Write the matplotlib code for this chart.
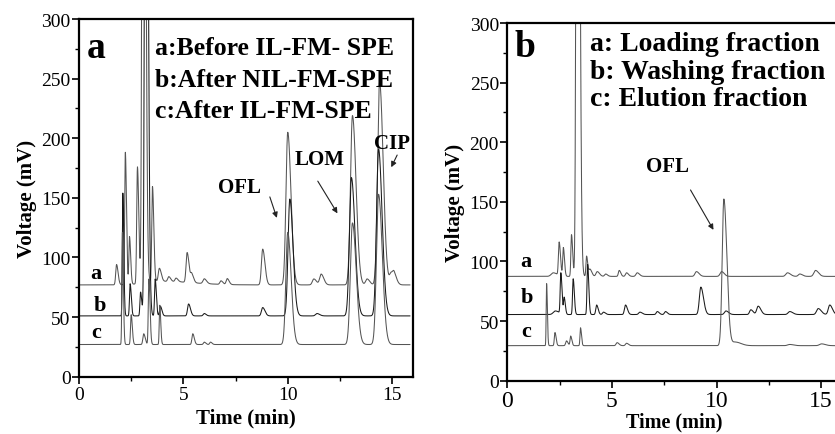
import numpy as np
import matplotlib
matplotlib.use("Agg")
import matplotlib.pyplot as plt
from matplotlib.ticker import MultipleLocator

plt.rcParams['font.family'] = ['Liberation Serif', 'DejaVu Serif']

# ---------------- data: peak tables ----------------
# panel a : baselines (mV)
a_base = {'a': 77.0, 'b': 51.0, 'c': 27.0}
# retention time (min), height above baseline (mV), width (min)
a_trace_a_t = [1.80, 2.22, 2.42, 2.80, 3.08, 3.52, 3.85, 4.00, 4.30, 4.65, 5.18, 5.40, 6.00, 6.80, 7.10, 8.80, 10.00, 11.25, 11.60, 13.10, 13.80, 14.40, 14.95, 15.10]
a_trace_a_h = [17, 111, 40, 98, 900, 80, 11, 3, 4, 3, 25, 7, 4, 3, 5, 30, 128, 5, 9, 142, 5, 170, 9, 7]
a_trace_a_w = [0.04, 0.03, 0.03, 0.035, 0.05, 0.035, 0.05, 0.8, 0.05, 0.05, 0.05, 0.05, 0.06, 0.05, 0.05, 0.06, 0.085, 0.07, 0.07, 0.095, 0.07, 0.095, 0.07, 0.07]

a_trace_b_t = [2.10, 2.45, 2.95, 3.20, 3.65, 3.90, 5.25, 6.00, 8.80, 10.10, 11.40, 13.05, 14.35]
a_trace_b_h = [103, 27, 20, 800, 31, 8, 10, 2, 7, 98, 2, 116, 140]
a_trace_b_w = [0.025, 0.03, 0.03, 0.05, 0.03, 0.04, 0.05, 0.05, 0.06, 0.085, 0.07, 0.095, 0.095]

a_trace_c_t = [2.08, 2.50, 3.10, 3.35, 3.87, 5.45, 6.00, 6.30, 10.00, 13.10, 14.35]
a_trace_c_h = [94, 25, 9, 55, 33, 9, 2, 2, 94, 102, 126]
a_trace_c_w = [0.025, 0.03, 0.04, 0.03, 0.025, 0.04, 0.04, 0.04, 0.09, 0.10, 0.10]

# panel b
b_base = {'a': 87.5, 'b': 55.5, 'c': 29.4}
b_trace_a_t = [2.20, 2.48, 2.68, 3.07, 3.35, 3.79, 3.95, 4.30, 4.70, 5.35, 5.70, 6.21, 9.04, 10.24, 13.39, 13.98, 14.73]
b_trace_a_h = [3, 28, 24, 35, 900, 17, 6, 4, 2, 5, 3, 3, 4, 4, 3, 2, 5]
b_trace_a_w = [0.10, 0.035, 0.03, 0.03, 0.05, 0.03, 0.05, 0.06, 0.05, 0.04, 0.05, 0.06, 0.07, 0.07, 0.08, 0.07, 0.08]

b_trace_b_t = [2.30, 2.56, 2.72, 3.15, 3.84, 4.27, 4.60, 5.65, 6.34, 7.17, 7.56, 9.25, 10.45, 11.64, 11.99, 13.50, 14.86, 15.41]
b_trace_b_h = [3, 34, 14, 30, 42, 8, 2, 8, 2, 2.5, 2.5, 23, 3, 4, 7, 2.5, 5, 8]
b_trace_b_w = [0.10, 0.03, 0.03, 0.03, 0.03, 0.04, 0.05, 0.05, 0.06, 0.05, 0.05, 0.07, 0.07, 0.06, 0.07, 0.08, 0.08, 0.07]

b_trace_c_t = [1.88, 2.28, 2.83, 3.03, 3.50, 5.25, 5.70, 10.35, 10.90, 13.50, 15.02]
b_trace_c_h = [52, 11, 4, 8, 15, 2.5, 2, 123, 3, 1, 1.5]
b_trace_c_w = [0.02, 0.03, 0.04, 0.03, 0.025, 0.05, 0.05, 0.08, 0.15, 0.10, 0.10]

xticks = [0, 5, 10, 15]
yticks = [0, 50, 100, 150, 200, 250, 300]

legend_a = ['a:Before IL-FM- SPE', 'b:After NIL-FM-SPE', 'c:After IL-FM-SPE']
legend_b = ['a: Loading fraction', 'b: Washing fraction', 'c: Elution fraction']


def trace(t, base, pt, ph, pw, tail=1.8):
    y = np.full_like(t, base)
    for c, h, w in zip(pt, ph, pw):
        s = np.where(t < c, w, w * tail)
        y = y + h * np.exp(-0.5 * ((t - c) / s) ** 2)
    return y


t = np.linspace(0, 15.85, 6000)
tb = np.linspace(0, 16, 6000)

fig = plt.figure(figsize=(8.35, 4.35), dpi=100)
axA = fig.add_axes([0.0946, 0.1317, 0.400, 0.8223])
axB = fig.add_axes([0.6075, 0.1225, 0.401, 0.8223])

colA = '#555555'
colB = '#1a1a1a'
colC = '#555555'

axA.plot(t, trace(t, a_base['a'], a_trace_a_t, a_trace_a_h, a_trace_a_w), color=colA, lw=0.75)
axA.plot(t, trace(t, a_base['b'], a_trace_b_t, a_trace_b_h, a_trace_b_w), color=colB, lw=0.75)
axA.plot(t, trace(t, a_base['c'], a_trace_c_t, a_trace_c_h, a_trace_c_w), color=colC, lw=0.75)

axB.plot(tb, trace(tb, b_base['a'], b_trace_a_t, b_trace_a_h, b_trace_a_w), color=colA, lw=0.75)
axB.plot(tb, trace(tb, b_base['b'], b_trace_b_t, b_trace_b_h, b_trace_b_w), color=colB, lw=0.75)
axB.plot(tb, trace(tb, b_base['c'], b_trace_c_t, b_trace_c_h, b_trace_c_w), color=colC, lw=0.75)

for ax, xfs, yfs, lp in ((axA, 14, 14, 3), (axB, 17, 14, 0)):
    ax.set_xlim(0, 16)
    ax.set_ylim(0, 300)
    ax.set_xticks(xticks)
    ax.set_yticks(yticks)
    ax.xaxis.set_minor_locator(MultipleLocator(2.5))
    ax.yaxis.set_minor_locator(MultipleLocator(25))
    ax.tick_params(which='major', direction='out', length=5, width=1.2, top=False, right=False)
    ax.tick_params(which='minor', direction='out', length=3, width=1.0, top=False, right=False)
    ax.tick_params(axis='x', labelsize=xfs, pad=2)
    ax.tick_params(axis='y', labelsize=yfs, pad=1)
    for sp in ax.spines.values():
        sp.set_linewidth(1.6)
    ax.set_xlabel('Time (min)', fontsize=15 if ax is axA else 14.5, fontweight='bold', labelpad=lp)
    ax.set_ylabel('Voltage (mV)', fontsize=15, fontweight='bold', labelpad=3)

# panel a annotations
axA.text(0.81, 276, 'a', fontsize=27, fontweight='bold', ha='center', va='center')
for s, yy in zip(legend_a, [276.3, 249.6, 223.0]):
    axA.text(3.64, yy, s, fontsize=18.5, fontweight='bold', ha='left', va='center')
for s, xx, yy in zip(['a', 'b', 'c'], [0.8, 1.0, 0.8], [87, 60.4, 37.2]):
    axA.text(xx, yy, s, fontsize=16, fontweight='bold', ha='center', va='center')
axA.text(7.7, 159, 'OFL', fontsize=15, fontweight='bold', ha='center', va='center')
axA.annotate('', xy=(9.52, 131), xytext=(9.1, 153),
             arrowprops=dict(arrowstyle='-|>', color='#222222', lw=0.8, mutation_scale=8))
axA.text(11.53, 183, 'LOM', fontsize=15, fontweight='bold', ha='center', va='center')
axA.annotate('', xy=(12.45, 135), xytext=(11.37, 166),
             arrowprops=dict(arrowstyle='-|>', color='#222222', lw=0.8, mutation_scale=8))
axA.text(15.01, 196, 'CIP', fontsize=15, fontweight='bold', ha='center', va='center')
axA.annotate('', xy=(14.9, 173.6), xytext=(15.3, 188),
             arrowprops=dict(arrowstyle='-|>', color='#222222', lw=0.8, mutation_scale=8))

# panel b annotations
axB.text(0.85, 280, 'b', fontsize=27, fontweight='bold', ha='center', va='center')
for s, yy in zip(legend_b, [282.4, 259.2, 236.3]):
    axB.text(3.96, yy, s, fontsize=20, fontweight='bold', ha='left', va='center')
for s, xx, yy in zip(['a', 'b', 'c'], [0.89, 0.92, 0.89], [100.7, 70.5, 42]):
    axB.text(xx, yy, s, fontsize=16, fontweight='bold', ha='center', va='center')
axB.text(7.68, 180, 'OFL', fontsize=15, fontweight='bold', ha='center', va='center')
axB.annotate('', xy=(9.92, 124.5), xytext=(8.69, 162),
             arrowprops=dict(arrowstyle='-|>', color='#222222', lw=0.8, mutation_scale=8))

fig.savefig('out.png', dpi=100)
